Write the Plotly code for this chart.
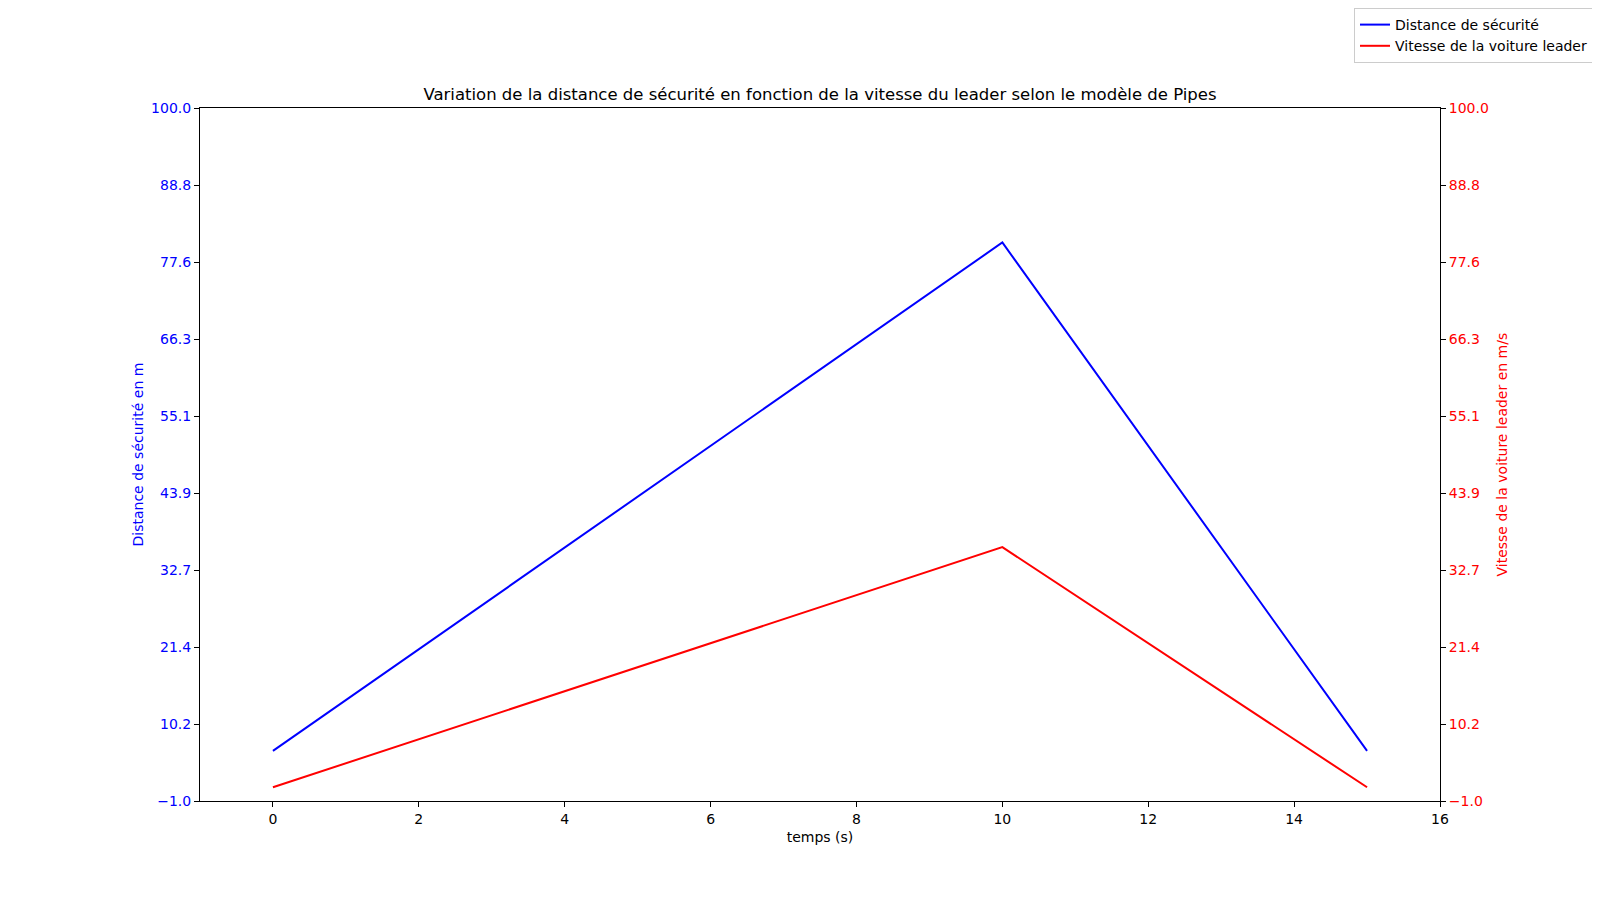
import plotly.graph_objects as go

temps = [0, 10, 15]
distance_securite = [6.3, 80.4, 6.3]
vitesse_leader = [1.0, 36.0, 1.0]
tick_vals = [-1.0, 10.222, 21.444, 32.667, 43.889, 55.111, 66.333, 77.556, 88.778, 100.0]
tick_text = ["\u22121.0", "10.2", "21.4", "32.7", "43.9", "55.1", "66.3", "77.6", "88.8", "100.0"]
x_ticks = [0, 2, 4, 6, 8, 10, 12, 14, 16]

FONT = "DejaVu Sans"
OFF = 8  # page body margin
fig = go.Figure()
fig.add_trace(go.Scatter(x=temps, y=distance_securite, mode="lines", name="Distance de sécurité",
                         line=dict(color="#0000ff", width=2), yaxis="y"))
fig.add_trace(go.Scatter(x=temps, y=vitesse_leader, mode="lines", name="Vitesse de la voiture leader",
                         line=dict(color="#ff0000", width=2), yaxis="y2"))

fig.update_layout(
    width=1600, height=900,
    margin=dict(l=200 - OFF, r=168, t=108 - OFF, b=107, autoexpand=False),
    plot_bgcolor="white", paper_bgcolor="white",
    font=dict(family=FONT, size=14, color="black"),
    title=dict(text="Variation de la distance de sécurité en fonction de la vitesse du leader selon le modèle de Pipes",
               x=0.5, xref="paper", y=1 - (94 - OFF) / 900, yref="container", yanchor="middle",
               font=dict(family=FONT, size=16.5, color="black")),
    xaxis=dict(range=[-1, 16], tickvals=x_ticks, showgrid=False, zeroline=False,
               showline=True, mirror=True, linecolor="black", linewidth=1,
               ticks="outside", ticklen=5, tickcolor="black",
               title=dict(text="temps (s)", standoff=6, font=dict(size=14)),
               tickfont=dict(size=14)),
    yaxis=dict(range=[-1, 100], tickvals=tick_vals, ticktext=tick_text, showgrid=False, zeroline=False,
               showline=True, linecolor="black", linewidth=1,
               ticks="outside", ticklen=5, tickcolor="black",
               tickfont=dict(color="#0000ff", size=14)),
    yaxis2=dict(range=[-1, 100], tickvals=tick_vals, ticktext=tick_text, overlaying="y", side="right",
                showgrid=False, zeroline=False, showline=True, linecolor="black", linewidth=1,
                ticks="outside", ticklen=5, tickcolor="black",
                tickfont=dict(color="#ff0000", size=14)),
    legend=dict(xref="container", yref="container", x=(1593 - OFF) / 1600, y=1 + 5 / 900,
                xanchor="right", yanchor="top",
                bgcolor="rgba(255,255,255,0.8)", bordercolor="#cccccc", borderwidth=1,
                font=dict(size=14), tracegroupgap=0, itemwidth=30),
    showlegend=True,
)
fig.add_annotation(text="Distance de sécurité en m", textangle=-90,
                   xref="paper", yref="paper", x=(137 - 200) / 1240, y=0.5,
                   xanchor="center", yanchor="middle", showarrow=False,
                   font=dict(color="#0000ff", size=14, family=FONT))
fig.add_annotation(text="Vitesse de la voiture leader en m/s", textangle=-90,
                   xref="paper", yref="paper", x=(1501 - 200) / 1240, y=0.5,
                   xanchor="center", yanchor="middle", showarrow=False,
                   font=dict(color="#ff0000", size=14, family=FONT))

fig.write_html("out.html")
